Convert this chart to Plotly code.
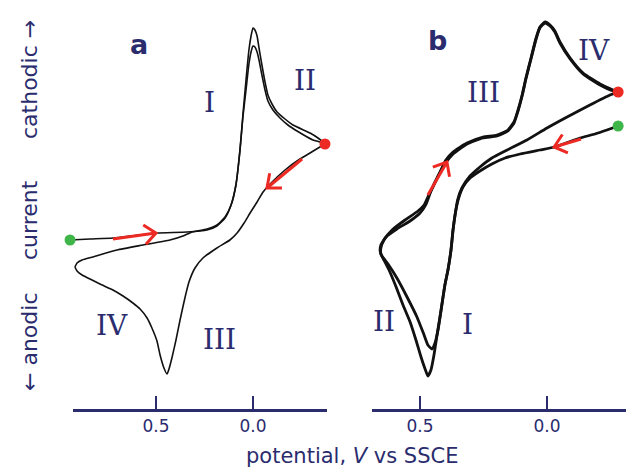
import numpy as np
import plotly.graph_objects as go

W, H = 626, 470
M_B = 61
PLOT_H = H - M_B
NAVY = "#2a2c6e"
RED = "#ec2a23"
GREEN = "#3fb54a"

# ---------------- data (potential V vs SSCE, current arbitrary units) ----------------
# panel a, first cycle (forward cathodic scan + reverse anodic scan)
a1_v = [0.943, 0.840, 0.722, 0.608, 0.495, 0.340, 0.237, 0.186, 0.144, 0.113,
        0.088, 0.067, 0.052, 0.036, 0.021, 0.010, 0.000, -0.010, -0.021, -0.031,
        -0.046, -0.062, -0.077, -0.098, -0.124, -0.165, -0.206, -0.294, -0.335, -0.371,
        -0.345, -0.294, -0.242, -0.165, -0.088, -0.052, -0.021, 0.015, 0.046, 0.082,
        0.119, 0.186, 0.258, 0.299, 0.330, 0.351, 0.376, 0.397, 0.418, 0.433,
        0.443, 0.459, 0.479, 0.495, 0.521, 0.546, 0.582, 0.619, 0.670, 0.722,
        0.789, 0.840, 0.881, 0.907, 0.918]
a1_i = [0.0, 0.1, 0.2, 0.45, 0.7, 0.8, 1.0, 1.4, 2.2, 3.5,
        5.5, 9.0, 12.5, 16.0, 19.0, 20.4, 21.2, 21.0, 20.4, 19.2,
        17.5, 15.8, 14.5, 13.6, 12.8, 12.1, 11.5, 10.7, 10.2, 9.6,
        9.3, 8.7, 8.1, 7.0, 5.6, 4.8, 3.8, 2.7, 1.7, 0.7,
        0.0, -0.8, -1.8, -2.8, -4.2, -5.8, -8.0, -10.0, -11.8, -12.9,
        -13.4, -12.8, -11.5, -10.1, -8.8, -7.8, -6.9, -6.3, -5.6, -5.0,
        -4.4, -3.9, -3.5, -3.1, -2.7]
# panel a, second cycle
a2_v = [0.918, 0.907, 0.881, 0.825, 0.701, 0.567, 0.428, 0.361, 0.314, 0.237,
        0.186, 0.144, 0.113, 0.088, 0.067, 0.052, 0.036, 0.021, 0.010, 0.000,
        -0.010, -0.021, -0.031, -0.046, -0.062, -0.077, -0.103, -0.139, -0.180, -0.227,
        -0.309, -0.345, -0.371]
a2_i = [-2.7, -2.3, -2.0, -1.7, -1.0, -0.5, 0.0, 0.4, 0.8, 1.1,
        1.5, 2.3, 3.5, 5.5, 9.0, 12.3, 15.0, 17.6, 18.8, 19.4,
        19.3, 18.8, 18.0, 16.5, 15.0, 13.9, 13.0, 12.2, 11.5, 10.9,
        10.0, 9.8, 9.6]

# panel b, first cycle
b1_v = [-0.280, -0.236, -0.189, -0.130, -0.031, 0.028, 0.106, 0.165, 0.217, 0.264,
        0.303, 0.331, 0.350, 0.362, 0.370, 0.378, 0.390, 0.402, 0.417, 0.433,
        0.445, 0.457, 0.469, 0.480, 0.496, 0.516, 0.539, 0.567, 0.594, 0.622,
        0.642, 0.654, 0.654, 0.642, 0.610, 0.559, 0.508, 0.484, 0.469, 0.449,
        0.421, 0.398, 0.370, 0.315, 0.252, 0.197, 0.154, 0.130, 0.114, 0.098,
        0.083, 0.063, 0.043, 0.028, 0.008, -0.012, -0.031, -0.051, -0.091, -0.142,
        -0.209, -0.260, -0.280]
b1_i = [11.4, 11.0, 10.6, 10.2, 9.3, 9.0, 8.6, 8.2, 7.6, 6.9,
        6.2, 5.3, 4.0, 2.5, 1.0, -1.0, -3.0, -4.5, -7.0, -9.5,
        -11.5, -13.0, -13.6, -12.9, -11.7, -10.0, -8.2, -6.5, -4.7, -3.0,
        -2.0, -1.4, -0.8, 0.0, 1.0, 2.0, 2.9, 3.5, 4.3, 5.3,
        6.8, 8.0, 8.8, 9.7, 10.3, 10.5, 11.0, 11.8, 13.0, 14.5,
        16.2, 18.2, 20.2, 21.3, 21.8, 21.5, 20.9, 19.8, 18.2, 16.7,
        15.6, 15.0, 14.8]
# panel b, second cycle
b2_v = [-0.280, -0.248, -0.169, -0.079, 0.000, 0.079, 0.157, 0.217, 0.264, 0.303,
        0.335, 0.352, 0.362, 0.370, 0.378, 0.390, 0.402, 0.417, 0.429, 0.441,
        0.453, 0.469, 0.484, 0.512, 0.551, 0.591, 0.626, 0.650, 0.657, 0.654,
        0.634, 0.591, 0.539, 0.500, 0.476, 0.457, 0.429, 0.402, 0.370, 0.315,
        0.252, 0.197, 0.154, 0.130, 0.114, 0.098, 0.083, 0.063, 0.043, 0.028,
        0.008, -0.012, -0.031, -0.051, -0.091, -0.142, -0.209, -0.260, -0.280]
b2_i = [14.8, 14.5, 13.5, 12.3, 11.2, 10.0, 9.0, 8.2, 7.3, 6.4,
        5.2, 4.0, 2.5, 1.0, -1.0, -3.0, -4.5, -7.0, -9.0, -10.3,
        -10.9, -10.5, -9.5, -7.7, -5.7, -3.8, -2.4, -1.6, -1.1, -0.5,
        0.3, 1.1, 1.9, 2.7, 3.6, 4.9, 6.4, 7.6, 8.6, 9.6,
        10.2, 10.4, 10.9, 11.7, 12.9, 14.4, 16.1, 18.1, 20.1, 21.2,
        21.7, 21.4, 20.8, 19.7, 18.1, 16.6, 15.5, 14.9, 14.8]

# start (green) and switching (red) points
a_start = (0.943, 0.0)
a_switch = (-0.371, 9.6)
b_start = (-0.280, 11.4)
b_switch = (-0.280, 14.8)

# scan-direction arrows: tail and head
a_arrow_tail_v = [0.722, -0.253]
a_arrow_tail_i = [0.1, 8.1]
a_arrow_head_v = [0.500, -0.072]
a_arrow_head_i = [0.7, 5.2]
b_arrow_tail_v = [0.469, -0.134]
b_arrow_tail_i = [4.5, 10.1]
b_arrow_head_v = [0.394, -0.028]
b_arrow_head_i = [7.8, 9.3]

tick_vals = [0.5, 0.0]
tick_text = ["0.5", "0.0"]

# ---------------- axes geometry ----------------
y_range = [-16.9, 24.0]
# panel a: data axis (hidden, wider) and drawn axis (line + ticks), same scale
xa_dom = [55 / W, 340 / W]
xa_range = [1.0206, -0.4485]
xa_axis_dom = [73 / W, 327 / W]
xa_axis_range = [0.9278, -0.3814]
# panel b
xb_dom = [372 / W, 1.0]
xb_range = [0.6890, -0.3110]


def chevron(tv, ti, hv, hi, xr, dom, L=15.0, ang=40.0):
    sx = (dom[1] - dom[0]) * W / (xr[0] - xr[1])
    sy = PLOT_H / (y_range[1] - y_range[0])
    dx = -(tv - hv) * sx
    dy = (ti - hi) * sy
    n = np.hypot(dx, dy)
    ux, uy = dx / n, dy / n
    xs, ys = [tv, hv, None], [ti, hi, None]
    arms = []
    for s in (1, -1):
        a = np.radians(ang * s)
        rx = ux * np.cos(a) - uy * np.sin(a)
        ry = ux * np.sin(a) + uy * np.cos(a)
        arms.append((hv - L * rx / sx, hi + L * ry / sy))
    xs += [arms[0][0], hv, arms[1][0], None]
    ys += [arms[0][1], hi, arms[1][1], None]
    return xs, ys


fig = go.Figure()

# empty trace so that the drawn panel-a axis gets its subplot (drawn first, below)
fig.add_trace(go.Scatter(x=tick_vals, y=[None, None], mode="lines", xaxis="x3", yaxis="y",
                         showlegend=False, hoverinfo="skip"))

for v, i in ((a1_v, a1_i), (a2_v, a2_i)):
    fig.add_trace(go.Scatter(x=v, y=i, mode="lines", xaxis="x", yaxis="y",
                             line=dict(color="#111111", width=1.6, shape="spline", smoothing=0.5),
                             showlegend=False, hoverinfo="skip"))
for v, i in ((b1_v, b1_i), (b2_v, b2_i)):
    fig.add_trace(go.Scatter(x=v, y=i, mode="lines", xaxis="x2", yaxis="y",
                             line=dict(color="#111111", width=2.8, shape="spline", smoothing=0.5),
                             showlegend=False, hoverinfo="skip"))

# arrows
for tvs, tis, hvs, his, xr, dom, ax in (
        (a_arrow_tail_v, a_arrow_tail_i, a_arrow_head_v, a_arrow_head_i, xa_range, xa_dom, "x"),
        (b_arrow_tail_v, b_arrow_tail_i, b_arrow_head_v, b_arrow_head_i, xb_range, xb_dom, "x2")):
    for tv, ti, hv, hi in zip(tvs, tis, hvs, his):
        xs, ys = chevron(tv, ti, hv, hi, xr, dom)
        fig.add_trace(go.Scatter(x=xs, y=ys, mode="lines", xaxis=ax, yaxis="y",
                                 line=dict(color=RED, width=3), showlegend=False,
                                 hoverinfo="skip"))

# dots
for pt, col, ax in ((a_start, GREEN, "x"), (a_switch, RED, "x"),
                    (b_start, GREEN, "x2"), (b_switch, RED, "x2")):
    fig.add_trace(go.Scatter(x=[pt[0]], y=[pt[1]], mode="markers", xaxis=ax, yaxis="y",
                             marker=dict(color=col, size=11, line=dict(width=0)),
                             cliponaxis=False, showlegend=False, hoverinfo="skip"))

axis_common = dict(showline=True, linecolor=NAVY, linewidth=2.5, ticks="inside",
                   ticklen=13, tickwidth=2, tickcolor=NAVY, tickvals=tick_vals,
                   ticktext=tick_text, tickfont=dict(family="DejaVu Sans", size=17, color=NAVY),
                   showgrid=False, zeroline=False, anchor="y", ticklabelstandoff=0)

fig.update_layout(
    width=W, height=H,
    margin=dict(l=0, r=0, t=0, b=M_B),
    paper_bgcolor="white", plot_bgcolor="rgba(0,0,0,0)",
    xaxis=dict(domain=xa_dom, range=xa_range, visible=False, anchor="y"),
    xaxis3=dict(domain=xa_axis_dom, range=xa_axis_range, **axis_common),
    xaxis2=dict(domain=xb_dom, range=xb_range, **axis_common),
    yaxis=dict(range=y_range, visible=False, domain=[0, 1]),
)


def px(x):
    return x / W


def py(y):
    return (PLOT_H - y) / PLOT_H


labels = [
    ("<b>a</b>", 139, 44, 27, "DejaVu Sans"),
    ("<b>b</b>", 437, 41, 27, "DejaVu Sans"),
    ("I", 209, 102, 28, "DejaVu Serif"),
    ("II", 305, 80, 28, "DejaVu Serif"),
    ("IV", 112, 325, 28, "DejaVu Serif"),
    ("III", 219, 339, 28, "DejaVu Serif"),
    ("III", 483, 92, 28, "DejaVu Serif"),
    ("IV", 594, 50, 28, "DejaVu Serif"),
    ("II", 384, 321, 28, "DejaVu Serif"),
    ("I", 467, 324, 28, "DejaVu Serif"),
]
for text, x, y, size, fam in labels:
    fig.add_annotation(text=text, x=px(x), y=py(y), xref="paper", yref="paper",
                       showarrow=False, xanchor="center", yanchor="middle",
                       font=dict(family=fam, size=size, color=NAVY))

fig.add_annotation(text="potential, <i>V</i> vs SSCE", x=px(352), y=py(469),
                   xref="paper", yref="paper", showarrow=False,
                   xanchor="center", yanchor="bottom", borderpad=0,
                   font=dict(family="DejaVu Sans", size=21, color=NAVY))

for text, y in (("cathodic →", 80), ("current", 220), ("← anodic", 342)):
    fig.add_annotation(text=text, x=px(29), y=py(y), xref="paper", yref="paper",
                       showarrow=False, xanchor="center", yanchor="middle", textangle=-90,
                       font=dict(family="DejaVu Sans", size=22, color=NAVY))

fig.write_html("out.html", config={"displayModeBar": False},
               post_script="document.body.style.margin='0';document.body.style.overflow='hidden';")
